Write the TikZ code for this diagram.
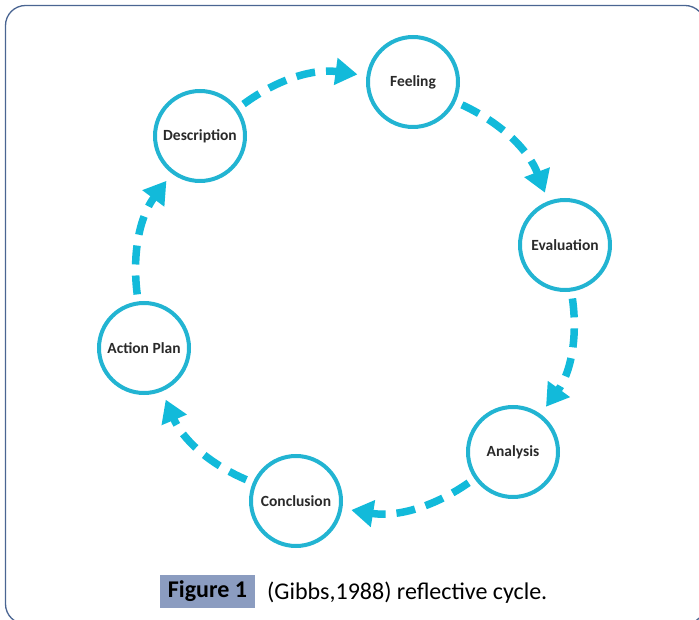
\documentclass[tikz,border=0pt]{standalone}
\usepackage{fontspec}
\setmainfont{Carlito}
\usetikzlibrary{arrows.meta}
\definecolor{ringcyan}{HTML}{22B4D2}
\definecolor{flowcyan}{HTML}{12BADA}
\definecolor{framecol}{HTML}{4A6592}
\definecolor{capbox}{HTML}{8B9CC0}
\definecolor{labeltext}{HTML}{2A2A2A}

\begin{document}
\begin{tikzpicture}[x=1pt,y=1pt,
  stage/.style={circle, draw=ringcyan, line width=4pt, fill=white,
    minimum size=90pt, inner sep=0pt,
    font=\fontsize{15.5}{18}\selectfont\bfseries, text=labeltext},
  flow/.style={draw=flowcyan, line width=7.5pt,
    dash pattern=on 19pt off 11pt,
    -{Triangle[length=22pt,width=26pt]},
    shorten <=7pt, shorten >=9pt, bend left=22},
  captionfont/.style={font=\fontsize{24}{28}\selectfont},
  tagfont/.style={font=\fontsize{24}{28}\selectfont\bfseries}
]
\useasboundingbox (0,0) rectangle (699,619);

% outer rounded frame
\draw[framecol, line width=1.3pt, rounded corners=20pt]
  (5.5,613.5) rectangle (705,-5);

% the six stages of the cycle
\node[stage] (feel) at (413,537) {Feeling};
\node[stage] (desc) at (200,483) {Description};
\node[stage] (eval) at (565,374) {Evaluation};
\node[stage] (anal) at (513,167) {Analysis};
\node[stage] (conc) at (296,118) {Conclusion};
\node[stage] (plan) at (144,271) {Action Plan};

% dashed arrows running clockwise
\draw[flow] (desc) to (feel);
\draw[flow] (feel) to (eval);
\draw[flow] (eval) to (anal);
\draw[flow] (anal) to (conc);
\draw[flow] (conc) to (plan);
\draw[flow] (plan) to (desc);

% caption
\node[fill=capbox, minimum width=95pt, minimum height=33pt, inner sep=0pt,
  tagfont] (figtag) at (207.5,27.5) {Figure 1};
\node[anchor=base west, inner sep=0pt, captionfont] (captxt) at (267,20)
  {(Gibbs,1988) reflective cycle.};
\end{tikzpicture}
\end{document}
